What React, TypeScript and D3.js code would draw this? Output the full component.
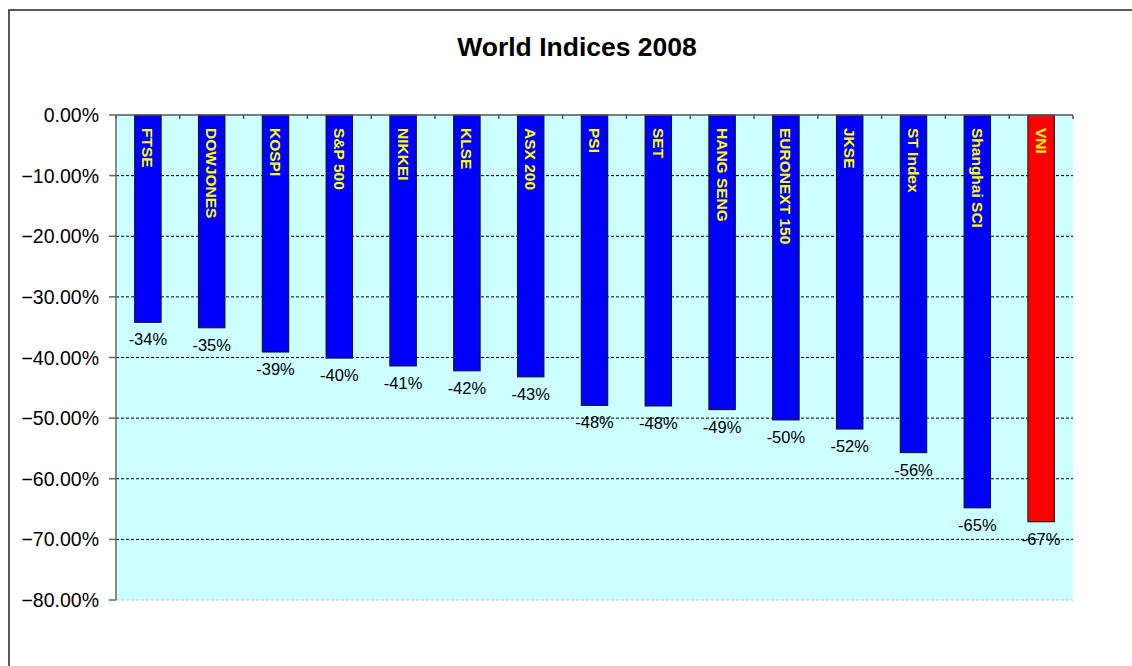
import * as d3 from 'd3';
import React from 'react';

const categories = ['FTSE', 'DOWJONES', 'KOSPI', 'S&P 500', 'NIKKEI', 'KLSE', 'ASX 200', 'PSI', 'SET', 'HANG SENG', 'EURONEXT 150', 'JKSE', 'ST Index', 'Shanghai SCI', 'VNI']
const values = [-34.2, -35.1, -39.1, -40.1, -41.4, -42.2, -43.2, -47.9, -48.0, -48.6, -50.3, -51.8, -55.7, -64.8, -67.1]
const barColors = ['#0000ff', '#0000ff', '#0000ff', '#0000ff', '#0000ff', '#0000ff', '#0000ff', '#0000ff', '#0000ff', '#0000ff', '#0000ff', '#0000ff', '#0000ff', '#0000ff', '#ff0000']
const yTicks = [0, -10, -20, -30, -40, -50, -60, -70, -80]

const FONT = 'Arial, "Liberation Sans", sans-serif'

export default function App() {
    const width = 1132
    const height = 666
    const plot = { left: 116, right: 1073, top: 115, bottom: 600 }

    const x = d3.scaleBand()
        .domain(categories)
        .range([plot.left, plot.right])
        .paddingInner(0.585)
        .paddingOuter(0.2925)

    const y = d3.scaleLinear()
        .domain([0, -80])
        .range([plot.top, plot.bottom])

    const step = x.step()
    const bounds = d3.range(categories.length + 1).map(i => plot.left + i * step)

    return (
        <svg width={width} height={height} style={{ position: 'absolute', left: 0, top: 0, background: '#fff' }}>
            {/* chart area border */}
            <rect x={9} y={10} width={1140} height={700} fill="#fff" stroke="#222" strokeWidth={1.5} />

            <text x={577} y={56} textAnchor="middle" fontFamily={FONT} fontWeight="bold" fontSize={26.5} fill="#000">
                World Indices 2008
            </text>

            {/* plot area */}
            <rect x={plot.left} y={plot.top} width={plot.right - plot.left} height={plot.bottom - plot.top} fill="#ccffff" />

            {/* gridlines */}
            {yTicks.filter(t => t !== 0).map(t => (
                <line key={'g' + t} x1={plot.left} x2={plot.right} y1={y(t)} y2={y(t)}
                    stroke={t === -80 ? '#b8c8c8' : '#000'} strokeWidth={1} strokeDasharray="3,2" />
            ))}

            {/* bars */}
            {categories.map((c, i) => (
                <rect key={c} x={x(c)} y={y(0)} width={x.bandwidth()} height={y(values[i]) - y(0)}
                    fill={barColors[i]} stroke="#111" strokeWidth={1} />
            ))}

            {/* category labels inside bars */}
            {categories.map(c => {
                const cx = (x(c) as number) + x.bandwidth() / 2
                return (
                    <text key={'c' + c} transform={`translate(${cx},${plot.top + 13}) rotate(90)`}
                        dominantBaseline="central" fontFamily={FONT} fontWeight="bold" fontSize={15.5} fill="#ffff00">
                        {c}
                    </text>
                )
            })}

            {/* data labels */}
            {categories.map((c, i) => (
                <text key={'v' + c} x={(x(c) as number) + x.bandwidth() / 2} y={y(values[i]) + 23}
                    textAnchor="middle" fontFamily={FONT} fontSize={16.5} fill="#000">
                    {Math.round(values[i]) + '%'}
                </text>
            ))}

            {/* category axis at 0 */}
            <line x1={plot.left} x2={plot.right} y1={plot.top} y2={plot.top} stroke="#555" strokeWidth={1.5} />
            {bounds.map((b, i) => (
                <line key={'t' + i} x1={b} x2={b} y1={plot.top} y2={plot.top + 4} stroke="#555" strokeWidth={1.5} />
            ))}

            {/* value axis */}
            <line x1={plot.left} x2={plot.left} y1={plot.top} y2={plot.bottom} stroke="#666" strokeWidth={1.5} />
            {yTicks.map(t => (
                <g key={'y' + t}>
                    <line x1={plot.left - 7} x2={plot.left} y1={y(t)} y2={y(t)} stroke="#666" strokeWidth={1.5} />
                    <text x={99} y={y(t) + 7} textAnchor="end" fontFamily={FONT} fontSize={19.5} fill="#000">
                        {d3.format('.2f')(t) + '%'}
                    </text>
                </g>
            ))}
        </svg>
    )
}
